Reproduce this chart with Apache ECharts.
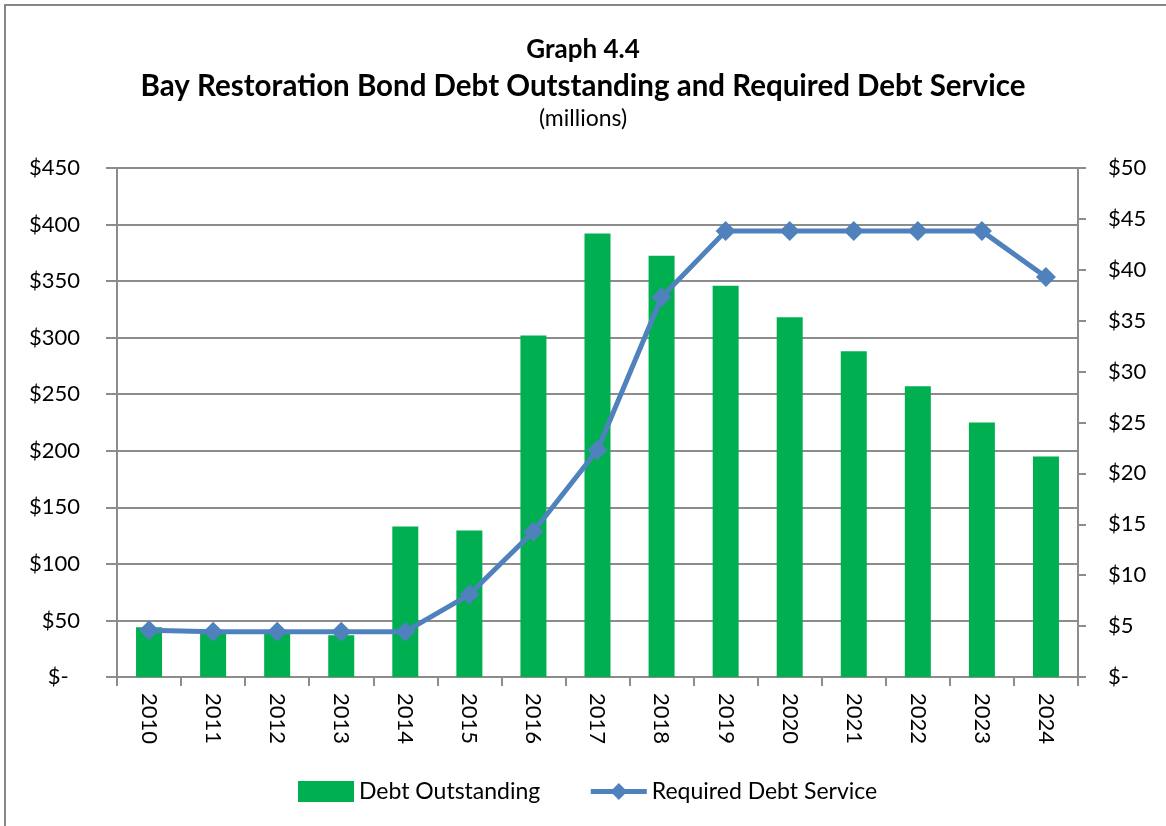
<!DOCTYPE html>
<html>
<head>
<meta charset="utf-8">
<script src="https://cdn.jsdelivr.net/npm/echarts@6/dist/echarts.min.js"></script>
<style>
html,body{margin:0;padding:0;background:#fff;}
#c{width:1166px;height:826px;}
</style>
</head>
<body>
<div id="c"></div>
<script>
const years = ['2010','2011','2012','2013','2014','2015','2016','2017','2018','2019','2020','2021','2022','2023','2024'];
const debtOutstanding = [44, 41, 39.5, 37, 133, 129.5, 302, 392, 372.5, 346, 318, 288, 257, 225, 195];
const requiredDebtService = [4.6, 4.45, 4.45, 4.45, 4.45, 8.1, 14.3, 22.3, 37.3, 43.8, 43.8, 43.8, 43.8, 43.8, 39.3];
const titleLines = ['Graph 4.4', 'Bay Restoration Bond Debt Outstanding and Required Debt Service', '(millions)'];

const FONT = 'Lato';
const chart = echarts.init(document.getElementById('c'));
chart.setOption({
  animation: false,
  textStyle: { fontFamily: FONT },
  graphic: [{
    type: 'rect', shape: { x: 5, y: 5, width: 1200, height: 900 },
    style: { fill: 'none', stroke: '#868686', lineWidth: 2 }, silent: true
  }],
  title: [
    { text: titleLines[0], left: 'center', top: 32, textStyle: { fontFamily: FONT, fontWeight: 'bold', fontSize: 26, color: '#000' } },
    { text: titleLines[1], left: 'center', top: 66, textStyle: { fontFamily: FONT, fontWeight: 'bold', fontSize: 29.5, color: '#000' } },
    { text: titleLines[2], left: 'center', top: 102, textStyle: { fontFamily: FONT, fontWeight: 'normal', fontSize: 23, color: '#000' } }
  ],
  legend: {
    top: 775, left: 293,
    itemWidth: 56, itemHeight: 21, itemGap: 48,
    textStyle: { fontFamily: FONT, fontSize: 23, color: '#000' },
    data: [
      { name: 'Debt Outstanding', icon: 'rect' },
      { name: 'Required Debt Service', lineStyle: { width: 5, color: '#4f81bd' } }
    ]
  },
  grid: { left: 117, right: 88, top: 168, bottom: 149 },
  xAxis: {
    type: 'category', data: years, boundaryGap: true,
    axisLine: { lineStyle: { color: '#8c8c8c', width: 2 } },
    axisTick: { show: true, alignWithLabel: false, length: 9, lineStyle: { color: '#8c8c8c', width: 2 } },
    axisLabel: { rotate: -90, margin: 16, fontFamily: FONT, fontSize: 22, color: '#000' }
  },
  yAxis: [
    {
      type: 'value', min: 0, max: 450, interval: 50, position: 'left',
      axisLine: { show: true, lineStyle: { color: '#8c8c8c', width: 2 } },
      axisTick: { show: true, length: 11, inside: false, lineStyle: { color: '#8c8c8c', width: 2 } },
      splitLine: { show: true, lineStyle: { color: '#8c8c8c', width: 2 } },
      axisLabel: { formatter: v => v === 0 ? '$-  ' : '$' + v, margin: 37, fontFamily: FONT, fontSize: 22, color: '#000' }
    },
    {
      type: 'value', min: 0, max: 50, interval: 5, position: 'right',
      axisLine: { show: true, lineStyle: { color: '#8c8c8c', width: 2 } },
      axisTick: { show: true, length: 8, inside: false, lineStyle: { color: '#8c8c8c', width: 2 } },
      splitLine: { show: false },
      axisLabel: { formatter: v => v === 0 ? '$-' : '$' + v, margin: 30, fontFamily: FONT, fontSize: 22, color: '#000' }
    }
  ],
  series: [
    {
      name: 'Debt Outstanding', type: 'bar', yAxisIndex: 0, data: debtOutstanding,
      barWidth: 26, itemStyle: { color: '#00b050' }
    },
    {
      name: 'Required Debt Service', type: 'line', yAxisIndex: 1, data: requiredDebtService,
      symbol: 'diamond', symbolSize: 20, z: 5,
      lineStyle: { color: '#4f81bd', width: 5 },
      itemStyle: { color: '#4f81bd' }
    }
  ]
});
</script>
</body>
</html>
